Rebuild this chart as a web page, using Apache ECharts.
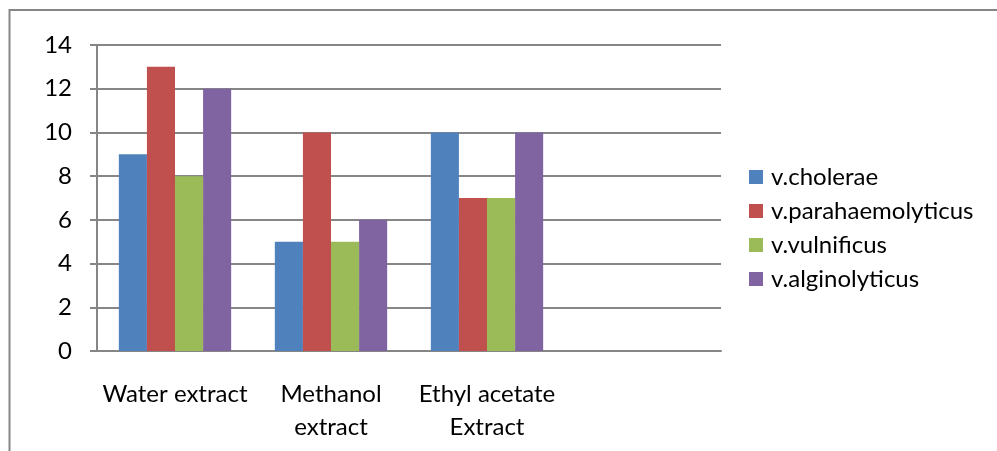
<!DOCTYPE html>
<html>
<head>
<meta charset="utf-8">
<script src="https://cdn.jsdelivr.net/npm/echarts@6/dist/echarts.min.js"></script>
<style>
  html, body { margin: 0; padding: 0; background: #fff; }
  #chart { width: 997px; height: 451px; }
</style>
</head>
<body>
<div id="chart"></div>
<script>
// Extracts tested against four Vibrio species
const categories = ['Water extract', 'Methanol\nextract', 'Ethyl acetate\nExtract', ''];
const seriesNames = ['v.cholerae', 'v.parahaemolyticus', 'v.vulnificus', 'v.alginolyticus'];
const cholerae = [9, 5, 10, null];
const parahaemolyticus = [13, 10, 7, null];
const vulnificus = [8, 5, 7, null];
const alginolyticus = [12, 6, 10, null];
const colors = ['#4F81BD', '#C0504D', '#9BBB59', '#8064A2'];

const values = [cholerae, parahaemolyticus, vulnificus, alginolyticus];
const font = 'Lato, "Open Sans", sans-serif';
const gray = '#868686';

const chart = echarts.init(document.getElementById('chart'), null, { renderer: 'canvas' });
chart.setOption({
  animation: false,
  backgroundColor: '#ffffff',
  textStyle: { fontFamily: font },
  graphic: [{
    type: 'rect',
    shape: { x: 9.5, y: 10, width: 1100, height: 600 },
    style: { fill: 'none', stroke: gray, lineWidth: 2 },
    silent: true
  }],
  grid: { left: 97, right: 276, top: 45, bottom: 100 },
  legend: {
    orient: 'vertical',
    left: 749,
    top: 165,
    padding: 0,
    itemWidth: 14,
    itemHeight: 14,
    itemGap: 10,
    icon: 'rect',
    data: seriesNames,
    textStyle: { fontFamily: font, fontSize: 24, color: '#000', lineHeight: 24, padding: [0, 0, 0, 3] }
  },
  xAxis: {
    type: 'category',
    data: categories,
    axisLine: { lineStyle: { color: gray, width: 2 } },
    axisTick: { length: 7, lineStyle: { color: gray, width: 2 } },
    axisLabel: { fontFamily: font, fontSize: 24, color: '#000', margin: 27, lineHeight: 33, interval: 0 }
  },
  yAxis: {
    type: 'value',
    min: 0,
    max: 14,
    interval: 2,
    axisLine: { show: true, lineStyle: { color: gray, width: 2 } },
    axisTick: { show: true, length: 7, lineStyle: { color: gray, width: 2 } },
    splitLine: { lineStyle: { color: gray, width: 2 } },
    axisLabel: { fontFamily: font, fontSize: 24, color: '#000', margin: 25 }
  },
  series: seriesNames.map((name, i) => ({
    name: name,
    type: 'bar',
    data: values[i],
    barGap: '0%',
    barCategoryGap: '28%',
    itemStyle: { color: colors[i] }
  }))
});
</script>
</body>
</html>
